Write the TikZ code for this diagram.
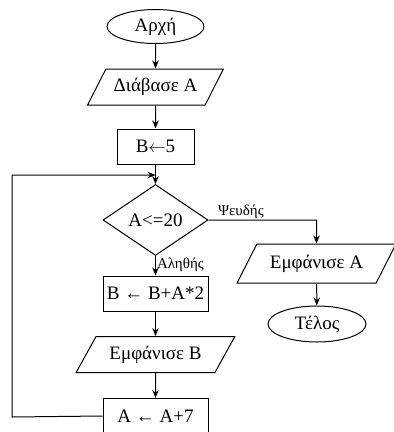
\documentclass[tikz,border=0pt]{standalone}
\usepackage{fontspec}
\setmainfont{Liberation Serif}
\usetikzlibrary{shapes.geometric,arrows.meta}

\begin{document}
\begin{tikzpicture}
  [x=1pt,y=-1pt,font=\fontsize{19}{21}\selectfont,
   every node/.style={draw,line width=1pt,inner sep=1pt},
   term/.style={ellipse,minimum width=97pt,minimum height=34pt},
   io/.style={trapezium,trapezium left angle=51,trapezium right angle=129,
     minimum height=36pt,trapezium stretches=true},
   proc/.style={rectangle,minimum height=35pt},
   cond/.style={diamond,minimum width=105pt,minimum height=61pt},
   lbl/.style={draw=none,font=\fontsize{15}{16}\selectfont},
   flow/.style={line width=1pt,-{Stealth[length=8pt,width=6.5pt]}}]
  \useasboundingbox (0,0) rectangle (394,432);
  \node[term] (start) at (155.5,26.5) {Αρχή};
  \node[io,minimum width=136pt] (read) at (155.5,87) {Διάβασε Α};
  \node[proc,minimum width=77pt] (init) at (155.5,146.5) {B$\leftarrow$5};
  \node[cond] (test) at (155.5,220) {A<=20};
  \node[proc,minimum width=105pt] (calc) at (155.5,293.5) {B ← B+A*2};
  \node[io,minimum width=159pt] (showb) at (155.5,354.5) {Εμφάνισε Β};
  \node[proc,minimum width=105pt] (incr) at (155.5,416) {A ← A+7};
  \node[io,minimum width=159pt,minimum height=39pt] (showa) at (316.5,263.5) {Εμφάνισε Α};
  \node[term,minimum width=98pt,minimum height=36pt] (stop) at (317,324) {Τέλος};
  \coordinate (join) at (155.5,175);
  \coordinate (back) at (12,417);
  \foreach \from/\to in {start/read,read/init,init/test,calc/showb,showb/incr,showa/stop}
    \draw[flow] (\from) -- (\to);
  \draw[flow] (test.south) -- node[lbl,right,pos=.45] {Αληθής} (calc.north);
  \draw[flow] (test.east) -- node[lbl,above,pos=.3] {Ψευδής} (test.east -| showa) -- (showa.north);
  \draw[flow] (incr.west) -- (back) |- (join);
\end{tikzpicture}
\end{document}
